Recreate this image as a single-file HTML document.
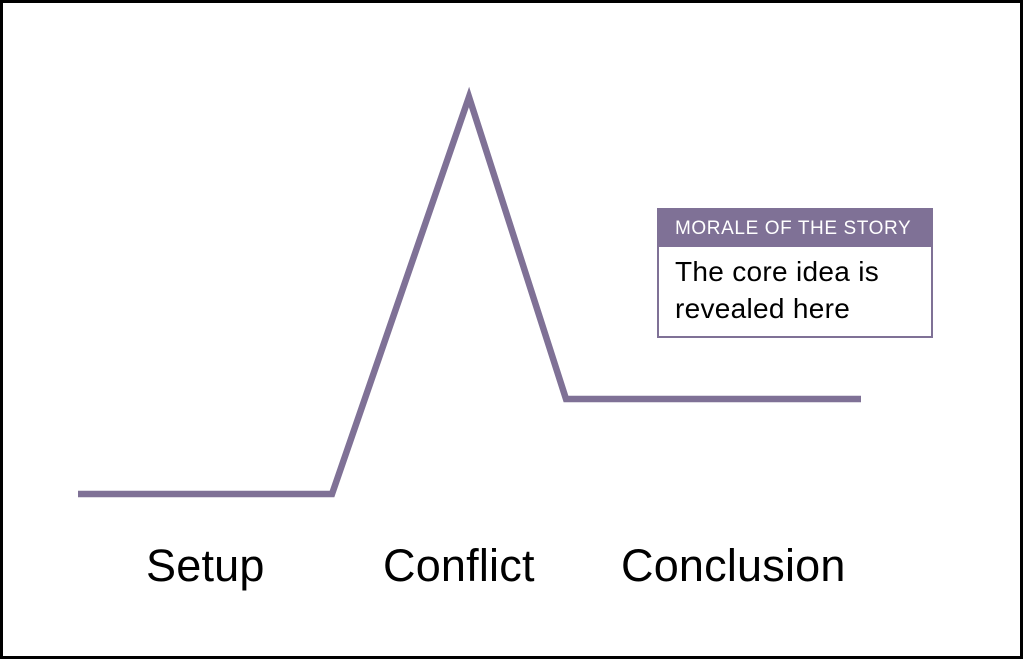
<!DOCTYPE html>
<html><head><style>
html,body{margin:0;padding:0;}
body{width:1023px;height:659px;background:#fff;position:relative;overflow:hidden;font-family:"Liberation Sans",Arial,sans-serif;}
.frame{position:absolute;left:0;top:0;width:1017px;height:653px;border:3px solid #000;}
.lbl{position:absolute;font-size:45px;color:#000;top:540px;letter-spacing:0.2px;}
.box{position:absolute;left:657px;top:208px;width:272px;height:126px;border:2px solid #7f7196;background:#fff;}
.hd{background:#7f7196;color:#fff;font-size:19px;height:37px;line-height:38px;padding-left:16px;letter-spacing:0.6px;}
.bd{font-size:28px;line-height:37px;padding:6px 0 0 16px;color:#000;letter-spacing:0.3px;white-space:nowrap;}
</style></head><body>
<div class="frame"></div>
<svg width="1023" height="659" style="position:absolute;left:0;top:0">
<polyline points="78,494 332,494 469,97 566,399 861,399" fill="none" stroke="#7f7196" stroke-width="6.5" stroke-linejoin="miter" stroke-miterlimit="10"/>
</svg>
<div class="lbl" style="left:146px">Setup</div>
<div class="lbl" style="left:383px">Conflict</div>
<div class="lbl" style="left:621px">Conclusion</div>
<div class="box"><div class="hd">MORALE OF THE STORY</div><div class="bd">The core idea is<br>revealed here</div></div>
</body></html>
